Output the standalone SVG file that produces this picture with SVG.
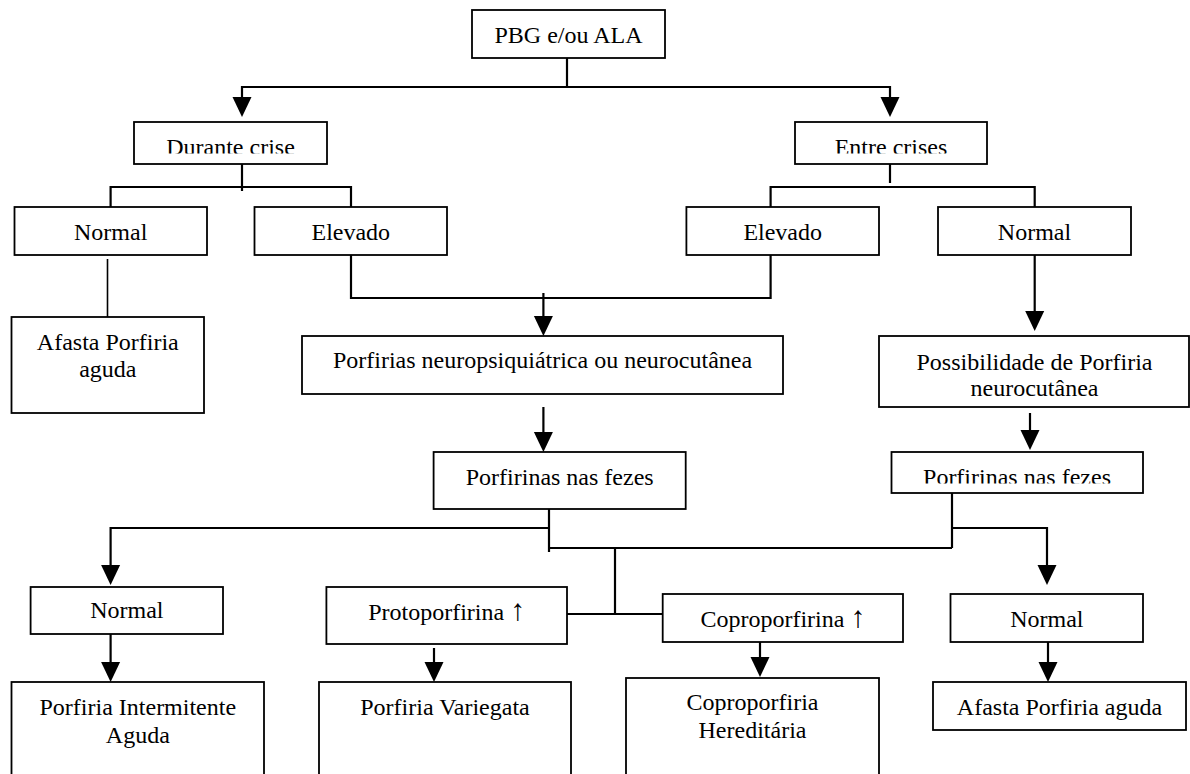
<svg xmlns="http://www.w3.org/2000/svg" width="1190" height="774" viewBox="0 0 1190 774">
<style>
  .box { fill: #ffffff; stroke: #000000; stroke-width: 1.8; }
  .t { font-family: "Liberation Serif", "Times New Roman", serif; font-size: 24px; fill: #000000; text-anchor: middle; }
  .up { font-size: 30px; }
  .c { fill: none; stroke: #000000; stroke-width: 2.2; }
  .ca { fill: none; stroke: #000000; stroke-width: 2.2; marker-end: url(#ah); }
  .thin { fill: none; stroke: #000000; stroke-width: 1.6; }
</style>
<defs>
  <marker id="ah" markerUnits="userSpaceOnUse" markerWidth="20" markerHeight="19" refX="0" refY="9.5" orient="auto" overflow="visible">
    <path d="M0,0 L20,9.5 L0,19 Z" fill="#000000"/>
  </marker>
  <clipPath id="clipDur"><rect x="134" y="122" width="193" height="31.5"/></clipPath>
  <clipPath id="clipEnt"><rect x="795" y="122" width="192" height="31.5"/></clipPath>
  <clipPath id="clipFezR"><rect x="890" y="452" width="253" height="31.5"/></clipPath>
</defs>
<rect width="1190" height="774" fill="#ffffff"/>

<g id="connectors">
  <path class="c" d="M567,58 V87"/>
  <path class="ca" d="M567,87 H242 V97"/>
  <path class="ca" d="M567,87 H890 V97"/>
  <path class="c" d="M242,164 V191"/>
  <path class="c" d="M110.6,211 V187 H351 V211"/>
  <path class="c" d="M890,164 V183"/>
  <path class="c" d="M770.6,211 V187 H1034.7 V211"/>
  <path class="thin" d="M107.5,259 V317"/>
  <path class="c" d="M351,252 V298 H770.6 V252"/>
  <path class="ca" d="M543.4,293 V316"/>
  <path class="ca" d="M543.4,407 V432"/>
  <path class="ca" d="M1034.7,252 V311"/>
  <path class="ca" d="M1030,413 V430"/>
  <path class="c" d="M549,509 V552"/>
  <path class="ca" d="M549,528 H110.6 V565"/>
  <path class="c" d="M549,548 H952"/>
  <path class="c" d="M952,489 V548"/>
  <path class="ca" d="M952,528 H1047 V565"/>
  <path class="c" d="M615,548 V614"/>
  <path class="c" d="M567,614 H662.7"/>
  <path class="ca" d="M110.6,634 V662"/>
  <path class="ca" d="M434,648 V662"/>
  <path class="ca" d="M760,642 V657"/>
  <path class="ca" d="M1048,642 V662"/>
</g>

<g id="pbg">
  <rect class="box" x="472" y="10" width="193" height="48"/>
  <text class="t" x="568.5" y="43">PBG e/ou ALA</text>
</g>
<g id="durante">
  <rect class="box" x="134" y="122" width="193" height="42"/>
  <text class="t" x="230.5" y="155" clip-path="url(#clipDur)">Durante crise</text>
</g>
<g id="entre">
  <rect class="box" x="795" y="122" width="192" height="42"/>
  <text class="t" x="891" y="155" clip-path="url(#clipEnt)">Entre crises</text>
</g>
<g id="normal1">
  <rect class="box" x="14.5" y="207" width="192.5" height="48"/>
  <text class="t" x="110.7" y="240">Normal</text>
</g>
<g id="elevado1">
  <rect class="box" x="254.5" y="207" width="192.5" height="48"/>
  <text class="t" x="350.8" y="240">Elevado</text>
</g>
<g id="elevado2">
  <rect class="box" x="686.4" y="207" width="192.6" height="48"/>
  <text class="t" x="782.7" y="240">Elevado</text>
</g>
<g id="normal2">
  <rect class="box" x="938" y="207" width="193" height="48"/>
  <text class="t" x="1034.5" y="240">Normal</text>
</g>
<g id="afasta1">
  <rect class="box" x="11.5" y="317" width="192.5" height="96"/>
  <text class="t" x="107.8" y="350">Afasta Porfiria</text>
  <text class="t" x="107.8" y="377">aguda</text>
</g>
<g id="neuro">
  <rect class="box" x="302" y="336" width="481" height="58"/>
  <text class="t" x="542.5" y="368">Porfirias neuropsiquiátrica ou neurocutânea</text>
</g>
<g id="possibilidade">
  <rect class="box" x="879" y="336" width="310" height="71"/>
  <text class="t" x="1034.5" y="370">Possibilidade de Porfiria</text>
  <text class="t" x="1034.5" y="396">neurocutânea</text>
</g>
<g id="fezes1">
  <rect class="box" x="433.6" y="452" width="252.1" height="57"/>
  <text class="t" x="559.7" y="485">Porfirinas nas fezes</text>
</g>
<g id="fezes2">
  <rect class="box" x="891.5" y="452" width="251.5" height="41"/>
  <text class="t" x="1017" y="484.5" clip-path="url(#clipFezR)">Porfirinas nas fezes</text>
</g>
<g id="normal3">
  <rect class="box" x="30.6" y="587" width="192.4" height="47"/>
  <text class="t" x="126.8" y="618">Normal</text>
</g>
<g id="proto">
  <rect class="box" x="326.4" y="587" width="240.6" height="57"/>
  <text class="t" x="446.7" y="620">Protoporfirina <tspan class="up">↑</tspan></text>
</g>
<g id="copro">
  <rect class="box" x="662.7" y="594" width="240.3" height="48"/>
  <text class="t" x="782.9" y="627">Coproporfirina <tspan class="up">↑</tspan></text>
</g>
<g id="normal4">
  <rect class="box" x="950.5" y="594" width="192.5" height="48"/>
  <text class="t" x="1046.8" y="627">Normal</text>
</g>
<g id="pia">
  <rect class="box" x="11.5" y="682" width="252.5" height="100"/>
  <text class="t" x="137.8" y="715">Porfiria Intermitente</text>
  <text class="t" x="137.8" y="743">Aguda</text>
</g>
<g id="pv">
  <rect class="box" x="319" y="682" width="252" height="100"/>
  <text class="t" x="445" y="715">Porfiria Variegata</text>
</g>
<g id="ch">
  <rect class="box" x="626" y="678" width="253" height="104"/>
  <text class="t" x="752.5" y="710">Coproporfiria</text>
  <text class="t" x="752.5" y="738">Hereditária</text>
</g>
<g id="afasta2">
  <rect class="box" x="933" y="682" width="253" height="48"/>
  <text class="t" x="1059.5" y="715">Afasta Porfiria aguda</text>
</g>
</svg>
